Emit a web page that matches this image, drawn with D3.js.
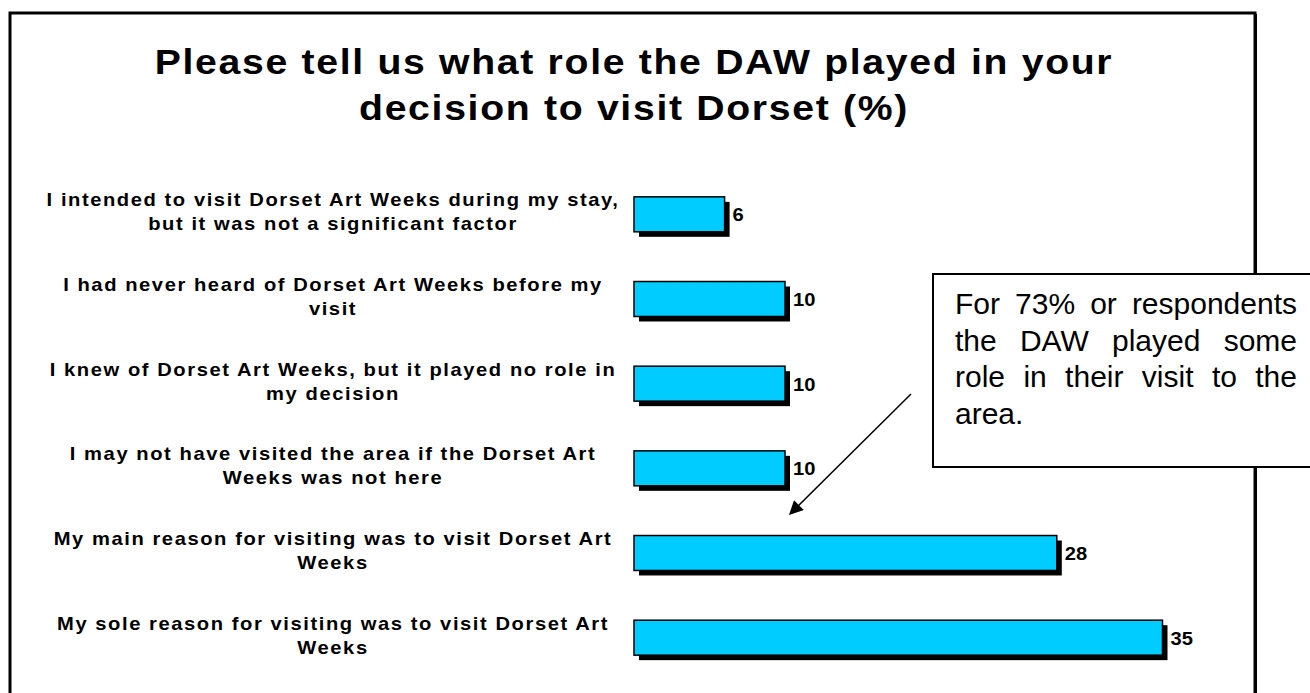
<!DOCTYPE html>
<html>
<head>
<meta charset="utf-8">
<script src="https://cdn.jsdelivr.net/npm/d3@7"></script>
<style>
  body { margin: 0; background: #fff; }
  svg { display: block; }
</style>
</head>
<body>
<svg width="1310" height="693"></svg>
<script>
var categories = [
    ["I intended to visit Dorset Art Weeks during my stay,", "but it was not a significant factor"],
    ["I had never heard of Dorset Art Weeks before my", "visit"],
    ["I knew of Dorset Art Weeks, but it played no role in", "my decision"],
    ["I may not have visited the area if the Dorset Art", "Weeks was not here"],
    ["My main reason for visiting was to visit Dorset Art", "Weeks"],
    ["My sole reason for visiting was to visit Dorset Art", "Weeks"]
];
var values = [6, 10, 10, 10, 28, 35];
var titleLines = ["Please tell us what role the DAW played in your", "decision to visit Dorset (%)"];
var noteLines = ["For 73% or respondents", "the DAW played some", "role in their visit to the", "area."];

var svg = d3.select("svg");
var font = "Liberation Sans, Arial, sans-serif";
var stretch = 1.12; // the chart text is drawn a little wide in the original

// outer frame with a bit of shadow on the right
svg.append("rect")
    .attr("x", 10).attr("y", 13)
    .attr("width", 1245).attr("height", 720)
    .attr("fill", "#fff")
    .attr("stroke", "#000")
    .attr("stroke-width", 3);
svg.append("rect")
    .attr("x", 1255).attr("y", 14)
    .attr("width", 2).attr("height", 720)
    .attr("fill", "#000");

// title
svg.selectAll(".title")
    .data(titleLines)
    .enter().append("text")
    .attr("class", "title")
    .attr("transform", function(d, i) {
        return "translate(634," + (74 + i * 46) + ") scale(" + stretch + ",1)";
    })
    .attr("text-anchor", "middle")
    .style("font-family", font)
    .style("font-weight", "bold")
    .style("font-size", "35px")
    .style("letter-spacing", "1.5px")
    .text(function(d) { return d; });

var x = d3.scaleLinear().domain([0, 40]).range([634, 1238]);
var y = d3.scaleBand()
    .domain(d3.range(values.length))
    .range([172, 680])
    .paddingInner(0.587)
    .paddingOuter(0.2935);

var rows = svg.selectAll(".row")
    .data(values)
    .enter().append("g")
    .attr("class", "row");

// shadow
rows.append("rect")
    .attr("x", x(0) + 5)
    .attr("y", function(d, i) { return y(i) + 5; })
    .attr("width", function(d) { return x(d) - x(0); })
    .attr("height", y.bandwidth())
    .attr("fill", "#000");

rows.append("rect")
    .attr("x", x(0))
    .attr("y", function(d, i) { return y(i); })
    .attr("width", function(d) { return x(d) - x(0); })
    .attr("height", y.bandwidth())
    .attr("fill", "#00CCFF")
    .attr("stroke", "#000")
    .attr("stroke-width", 1.5);

rows.append("text")
    .attr("transform", function(d, i) {
        return "translate(" + (x(d) + 8) + "," + (y(i) + y.bandwidth() / 2 + 7) + ") scale(" + stretch + ",1)";
    })
    .style("font-family", font)
    .style("font-weight", "bold")
    .style("font-size", "18px")
    .text(function(d) { return d; });

// category labels, two lines each
rows.each(function(d, i) {
    var c = y(i) + y.bandwidth() / 2;
    d3.select(this).selectAll(".lab")
        .data(categories[i])
        .enter().append("text")
        .attr("class", "lab")
        .attr("transform", function(t, j) {
            return "translate(333," + (c - 8 + j * 24) + ") scale(" + stretch + ",1)";
        })
        .attr("text-anchor", "middle")
        .style("font-family", font)
        .style("font-weight", "bold")
        .style("font-size", "18px")
        .style("letter-spacing", "1.4px")
        .text(function(t) { return t; });
});

// arrow to the bars
svg.append("defs").append("marker")
    .attr("id", "head")
    .attr("viewBox", "0 0 10 10")
    .attr("refX", 9).attr("refY", 5)
    .attr("markerWidth", 20).attr("markerHeight", 14)
    .attr("markerUnits", "userSpaceOnUse")
    .attr("orient", "auto")
    .append("path")
    .attr("d", "M0,0 L10,5 L0,10 z")
    .attr("fill", "#000");

svg.append("line")
    .attr("x1", 911).attr("y1", 394)
    .attr("x2", 790).attr("y2", 514)
    .attr("stroke", "#000")
    .attr("stroke-width", 1.5)
    .attr("marker-end", "url(#head)");

// note box, justified text
svg.append("rect")
    .attr("x", 933).attr("y", 274)
    .attr("width", 400).attr("height", 193)
    .attr("fill", "#fff")
    .attr("stroke", "#000")
    .attr("stroke-width", 2);

var left = 955, right = 1297;
noteLines.forEach(function(line, i) {
    var words = line.split(" ");
    var g = svg.append("g");
    var texts = g.selectAll("text")
        .data(words)
        .enter().append("text")
        .attr("y", 314 + i * 36.7)
        .style("font-family", font)
        .style("font-size", "30px")
        .text(function(w) { return w; });
    var widths = [];
    texts.each(function() { widths.push(this.getComputedTextLength()); });
    var total = d3.sum(widths);
    var last = i == noteLines.length - 1;
    var gap = (last || words.length < 2) ? 8 : (right - left - total) / (words.length - 1);
    var pos = left;
    texts.attr("x", function(w, k) {
        var p = pos;
        pos += widths[k] + gap;
        return p;
    });
});
</script>
</body>
</html>
